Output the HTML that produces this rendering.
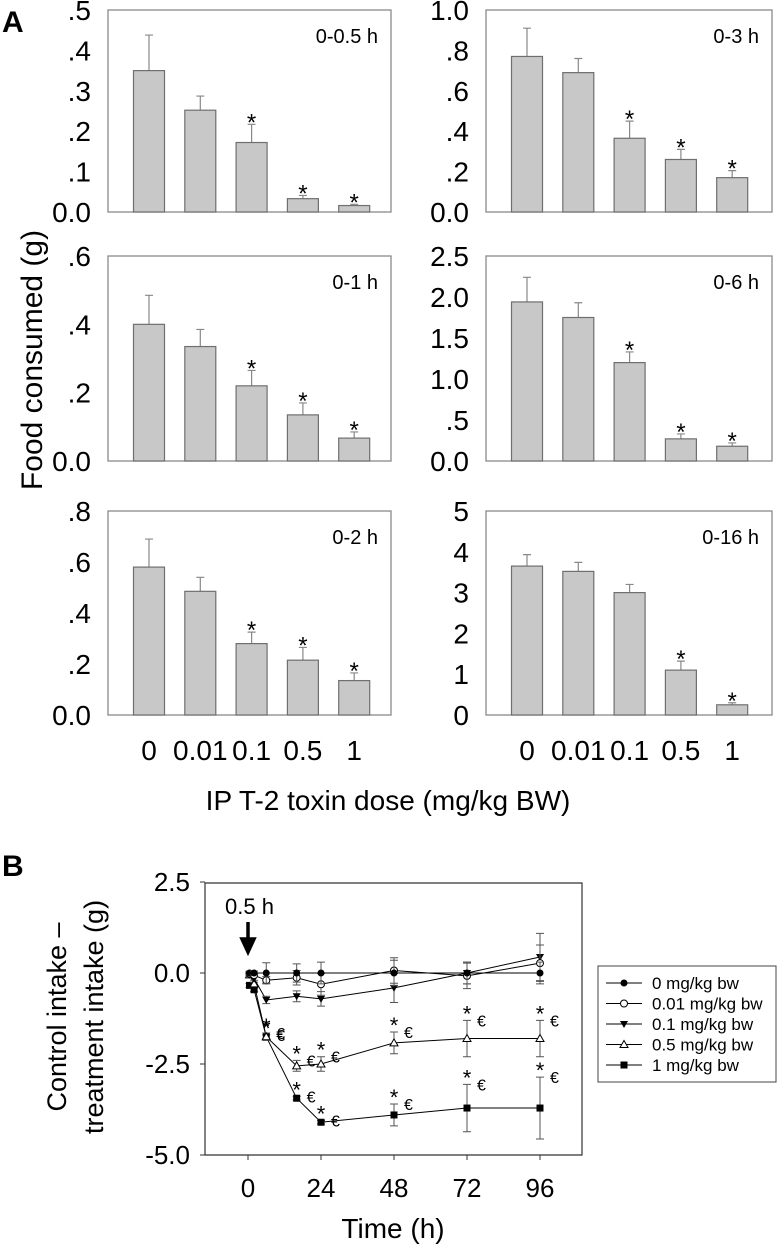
<!DOCTYPE html>
<html><head><meta charset="utf-8"><style>
html,body{margin:0;padding:0;background:#fff}
svg{display:block;font-family:"Liberation Sans",Arial,sans-serif}
</style></head><body>
<svg id="fig" width="777" height="1252" viewBox="0 0 777 1252" xmlns="http://www.w3.org/2000/svg">
<text x="2" y="32" font-size="30" font-weight="bold">A</text>
<text x="2" y="876" font-size="30" font-weight="bold">B</text>
<text transform="translate(42,360) rotate(-90)" text-anchor="middle" font-size="30">Food consumed (g)</text>
<text x="388" y="810" text-anchor="middle" font-size="28">IP T-2 toxin dose (mg/kg BW)</text>
<text transform="translate(66,1017) rotate(-90)" text-anchor="middle" font-size="27">Control intake –</text>
<text transform="translate(103,1017) rotate(-90)" text-anchor="middle" font-size="27">treatment intake (g)</text>
<text x="393" y="1238" text-anchor="middle" font-size="28">Time (h)</text>
<g id="bars"></g>
<g id="lineplot"></g>
</svg>
<script>
const doseLabels = ["0","0.01","0.1","0.5","1"];
const panelTitles = ["0-0.5 h","0-3 h","0-1 h","0-6 h","0-2 h","0-16 h"];
const panelMax = [0.5,1.0,0.6,2.5,0.8,5];
const panelTicks = [
 [".5",".4",".3",".2",".1","0.0"],
 ["1.0",".8",".6",".4",".2","0.0"],
 [".6",".4",".2","0.0"],
 ["2.5","2.0","1.5","1.0",".5","0.0"],
 [".8",".6",".4",".2","0.0"],
 ["5","4","3","2","1","0"]];
const v05 = [0.35,0.252,0.172,0.033,0.016];
const e05 = [0.088,0.035,0.045,0.008,0.003];
const v3 = [0.77,0.69,0.365,0.26,0.17];
const e3 = [0.14,0.07,0.085,0.05,0.035];
const v1 = [0.40,0.335,0.22,0.135,0.067];
const e1 = [0.085,0.05,0.045,0.035,0.018];
const v6 = [1.94,1.75,1.20,0.27,0.18];
const e6 = [0.30,0.18,0.13,0.06,0.04];
const v2 = [0.58,0.485,0.28,0.215,0.135];
const e2 = [0.11,0.055,0.045,0.05,0.03];
const v16 = [3.65,3.52,3.0,1.1,0.25];
const e16 = [0.28,0.22,0.2,0.22,0.05];
const sig05 = [0,0,1,1,1], sig3=[0,0,1,1,1], sig1=[0,0,1,1,1], sig6=[0,0,1,1,1], sig2=[0,0,1,1,1], sig16=[0,0,0,1,1];

const NS="http://www.w3.org/2000/svg";
function mk(tag, attrs, parent){const e=document.createElementNS(NS,tag);for(const k in attrs)e.setAttribute(k,attrs[k]);parent.appendChild(e);return e;}

const vals=[v05,v3,v1,v6,v2,v16], errs=[e05,e3,e1,e6,e2,e16], sigs=[sig05,sig3,sig1,sig6,sig2,sig16];
const rowTop=[10,256,511], rowBot=[212,461,715];
const colL=[108,486], colR=[391,772], tickX=[91,469];
const barsG=document.getElementById('bars');
for(let p=0;p<6;p++){
  const r=Math.floor(p/2), c=p%2;
  const top=rowTop[r], bot=rowBot[r], L=colL[c], R=colR[c];
  const y=v=>bot-(v/panelMax[p])*(bot-top);
  const g=mk('g',{},barsG);
  
  
  const box=mk('rect',{x:L,y:top,width:R-L,height:bot-top,fill:'none',stroke:'#8a8a8a','stroke-width':1.3},g);
  
  
  const t=mk('text',{x:R-13,y:top+33,'text-anchor':'end','font-size':20},g);t.textContent=panelTitles[p];
  
  
  const ticks=panelTicks[p], n=ticks.length-1;
  ticks.forEach((lab,i)=>{
    const val=panelMax[p]*(n-i)/n;
    const tt=mk('text',{x:tickX[c],y:y(val)+10,'text-anchor':'end','font-size':28},g);tt.textContent=lab;
    
    
  });
  for(let i=0;i<5;i++){
    const cx=L+41+i*51.3, v=vals[p][i], e=errs[p][i];
    const ey=y(v+e);
    const eb=mk('path',{d:`M${cx},${y(v)}V${ey}M${cx-4},${ey}H${cx+4}`,stroke:'#888','stroke-width':1.2,fill:'none'},g);
    
    
    const b=mk('rect',{x:cx-15.5,y:y(v),width:31,height:bot-y(v),fill:'#c8c8c8',stroke:'#6f6f6f','stroke-width':1.2},g);
    
    
    if(sigs[p][i]){
      const s=mk('text',{x:cx,y:ey+6,'text-anchor':'middle','font-size':24},g);s.textContent='*';
      
      
    }
    if(r===2){
      const xl=mk('text',{x:cx,y:760,'text-anchor':'middle','font-size':28},g);xl.textContent=doseLabels[i];
      
      
    }
  }
}

// Panel B
const times=[0.5,2,6,16,24,48,72,96];
const seriesNames=["0 mg/kg bw","0.01 mg/kg bw","0.1 mg/kg bw","0.5 mg/kg bw","1 mg/kg bw"];
const s0=[0,0,0,0,0,0,0,0];
const s001=[-0.02,-0.06,-0.2,-0.13,-0.31,0.07,-0.08,0.27];
const s01=[-0.05,-0.15,-0.74,-0.64,-0.71,-0.41,0,0.44];
const s05=[-0.05,-0.3,-1.75,-2.55,-2.5,-1.92,-1.8,-1.8];
const s1=[-0.34,-0.46,-1.75,-3.44,-4.1,-3.9,-3.71,-3.71];
const err0=[0.05,0.05,0.28,0.25,0.3,0.35,0.3,0.3];
const err001=[0.05,0.05,0.1,0.2,0.3,0.35,0.35,0.5];
const err01=[0.05,0.05,0.1,0.15,0.2,0.4,0.3,0.65];
const err05=[0.05,0.05,0.1,0.15,0.2,0.3,0.5,0.5];
const err1=[0.05,0.05,0.05,0.05,0.05,0.3,0.65,0.85];
const yTicksB=["2.5","0.0","-2.5","-5.0"];
const yTickValsB=[2.5,0,-2.5,-5];
const xTicksB=[0,24,48,72,96];
const markIdx=[2,3,4,5,6,7];

const lg=document.getElementById('lineplot');
const BL=205,BR=582,BT=883,BB=1155;
const X=t=>248+t*(73/24);
const Y=v=>973-v*(91/2.5);
const frame=mk('path',{d:`M${BL},${BT}H${BR}V${BB}H${BL}Z`,fill:'none',stroke:'#333','stroke-width':1.2},lg);


yTickValsB.forEach((v,i)=>{
  mk('path',{d:`M${BL-5},${Y(v)}H${BL}`,stroke:'#333'},lg);
  const t=mk('text',{x:190,y:Y(v)+9,'text-anchor':'end','font-size':26},lg);t.textContent=yTicksB[i];
  
  
});
xTicksB.forEach(v=>{
  mk('path',{d:`M${X(v)},${BB}V${BB+5}`,stroke:'#333'},lg);
  const t=mk('text',{x:X(v),y:1197,'text-anchor':'middle','font-size':26},lg);t.textContent=String(v);
  
  
});
const at=mk('text',{x:225,y:914,'font-size':22},lg);at.textContent='0.5 h';


const ar=mk('path',{d:`M248,922V940M242,939L248,952L254,939Z`,stroke:'#000','stroke-width':3.5,fill:'#000'},lg);



const sData=[s0,s001,s01,s05,s1], eData=[err0,err001,err01,err05,err1];
const markerTypes=['circle-fill','circle-open','tri-down','tri-up-open','square'];
function marker(type,x,y,g){
  if(type==='circle-fill')return mk('circle',{cx:x,cy:y,r:3.5,fill:'#000'},g);
  if(type==='circle-open')return mk('circle',{cx:x,cy:y,r:3.5,fill:'#fff',stroke:'#000','stroke-width':1}, g);
  if(type==='tri-down')return mk('path',{d:`M${x-4},${y-3}H${x+4}L${x},${y+4}Z`,fill:'#000'},g);
  if(type==='tri-up-open')return mk('path',{d:`M${x-4},${y+3}H${x+4}L${x},${y-4}Z`,fill:'#fff',stroke:'#000','stroke-width':1},g);
  return mk('rect',{x:x-3.5,y:y-3.5,width:7,height:7,fill:'#000'},g);
}
for(let s=4;s>=0;s--){
  const g=mk('g',{},lg);
  
  
  const d=times.map((t,i)=>(i?'L':'M')+X(t)+','+Y(sData[s][i])).join('');
  mk('path',{d,fill:'none',stroke:'#000','stroke-width':1},g);
  times.forEach((t,i)=>{
    const x=X(t),v=sData[s][i],e=eData[s][i];
    const eb=mk('path',{d:`M${x},${Y(v+e)}V${Y(v-e)}M${x-4},${Y(v+e)}H${x+4}M${x-4},${Y(v-e)}H${x+4}`,stroke:'#555','stroke-width':1},g);
    
    
    const m=marker(markerTypes[s],x,Y(v),g);
    
    
    if((s===3||s===4)&&markIdx.includes(i)){
      const st=mk('text',{x:x,y:Y(v+e)+1,'text-anchor':'middle','font-size':22},g);st.textContent='*';
      
      
      const eu=mk('text',{x:x+10,y:Y(v+e)+6,'font-size':16},g);eu.textContent='€';
      
      
    }
  });
}
// legend
const leg=mk('g',{},lg);


mk('rect',{x:598,y:966,width:178,height:116,fill:'#fff',stroke:'#444','stroke-width':1},leg);
seriesNames.forEach((n,i)=>{
  const yy=983+i*20.5;
  const e=mk('g',{},leg);
  
  
  mk('path',{d:`M606,${yy}H642`,stroke:'#000','stroke-width':1},e);
  marker(markerTypes[i],624,yy,e);
  const t=mk('text',{x:652,y:yy+6,'font-size':17},e);t.textContent=n;
});
</script>
</body></html>
